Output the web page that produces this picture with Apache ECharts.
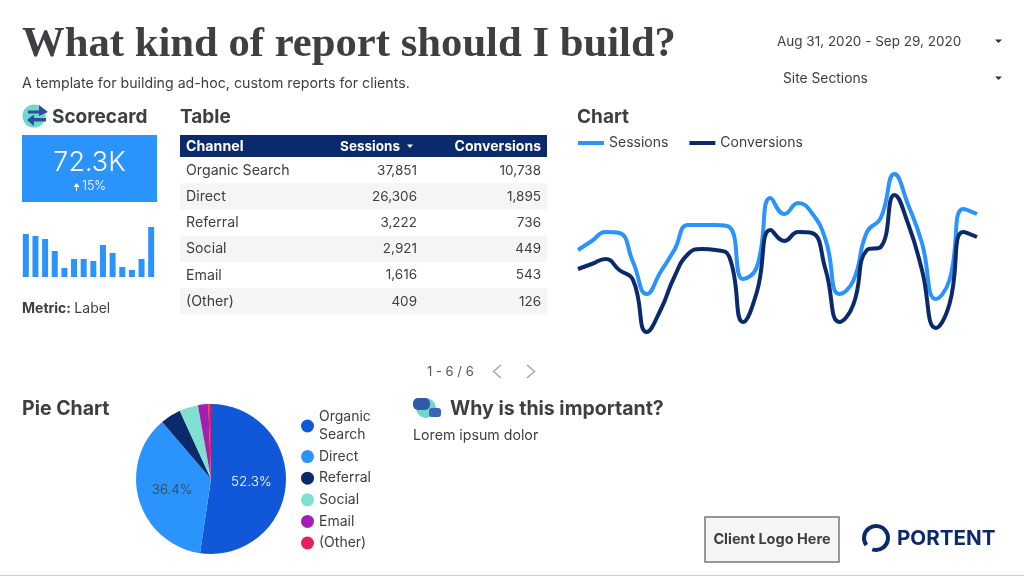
<!DOCTYPE html>
<html>
<head>
    <meta charset="utf-8">
    <title>What kind of report should I build?</title>
    <script src="https://cdn.jsdelivr.net/npm/echarts@6/dist/echarts.min.js"></script>
    <style>
      html, body { margin: 0; padding: 0; background: #fff; }
      #main { width: 1024px; height: 576px; }
    </style>
</head>
<body>
<div id="main"></div>
<script type="text/javascript">
// table
var channels = ['Organic Search', 'Direct', 'Referral', 'Social', 'Email', '(Other)'];
var channelSessions = [37851, 26306, 3222, 2921, 1616, 409];
var channelConversions = [10738, 1895, 736, 449, 543, 126];
// scorecard bars
var barValues = [43, 41, 38, 26, 9, 18, 18, 16, 32, 24, 10, 7, 18, 50];
// line chart, one value per day
var days = [];
for (var d = 0; d < 30; d++) days.push('d' + (d + 1));
var sessions = [1800, 1980, 2160, 2140, 1560, 920, 1360, 1800, 2300, 2300, 2300, 2260, 1220, 1460, 2840,
    2520, 2740, 2540, 2000, 920, 1180, 2160, 2440, 3320, 2700, 1940, 820, 1200, 2620, 2520];
var conversions = [355, 380, 405, 350, 300, 40, 150, 315, 430, 455, 450, 415, 90, 240, 550,
    495, 540, 535, 350, 90, 175, 450, 465, 725, 580, 350, 60, 180, 540, 515];

var pieColors = ['#1158d9', '#2a93fc', '#0a2a6b', '#7fdfd1', '#a020b0', '#e6205f'];
var sans = 'Inter, "Open Sans", sans-serif';
var ink = '#3c4043';

var myChart = echarts.init(document.getElementById('main'));

function txt(x, y, text, size, weight, color, align, family) {
    return {
        type: 'text',
        style: {
            x: x, y: y, text: text,
            font: weight + ' ' + size + 'px ' + (family || sans),
            fill: color || ink,
            textAlign: align || 'left',
            textVerticalAlign: 'middle'
        }
    };
}
function rect(x, y, w, h, fill, stroke) {
    return { type: 'rect', shape: { x: x, y: y, width: w, height: h }, style: { fill: fill, stroke: stroke || null, lineWidth: 1.5 } };
}
function poly(points, fill) {
    return { type: 'polygon', shape: { points: points }, style: { fill: fill } };
}
function chevron(points) {
    return { type: 'polyline', shape: { points: points }, style: { stroke: '#a8a8a8', lineWidth: 1.5, fill: null } };
}

var g = [];
// header
g.push(txt(22, 45, 'What kind of report should I build?', 42.7, 'bold', ink, 'left', '"Liberation Serif", serif'));
g.push(txt(22, 84, 'A template for building ad-hoc, custom reports for clients.', 14.2, 400));
g.push(txt(777, 42, 'Aug 31, 2020 - Sep 29, 2020', 13.5, 400));
g.push(txt(783, 79, 'Site Sections', 13.8, 400));
g.push(poly([[995, 39.5], [1002, 39.5], [998.5, 43]], '#333'));
g.push(poly([[995, 76.5], [1002, 76.5], [998.5, 80]], '#333'));

// section headings
g.push(txt(52, 117, 'Scorecard', 19, 700));
g.push(txt(180, 117, 'Table', 19, 700));
g.push(txt(577, 117, 'Chart', 19, 700));
g.push(txt(22, 409, 'Pie Chart', 19.5, 700));
g.push(txt(450, 409, 'Why is this important?', 19.5, 700));
g.push(txt(413, 436, 'Lorem ipsum dolor', 14.2, 400));

// scorecard icon
g.push({ type: 'circle', shape: { cx: 34, cy: 116, r: 11.5 }, style: { fill: '#6fd8cb' } });
g.push(poly([[28, 110.5], [39, 110.5], [39, 105], [48, 112], [39, 116], [39, 113.5], [28, 113.5]], '#2b4f9e'));
g.push(poly([[46, 118], [34, 118], [34, 114.5], [27, 120], [34, 126], [34, 121.5], [46, 121.5]], '#2b4f9e'));

// scorecard
g.push(rect(22, 135, 135, 67, '#2a93fc'));
g.push(txt(89.5, 163, '72.3K', 27, 300, '#fff', 'center'));
g.push(txt(94, 186, '15%', 12.5, 300, '#fff', 'center'));
g.push(poly([[76, 187], [73.5, 187], [76.5, 183], [79.5, 187], [77, 187], [77, 191], [76, 191]], '#fff'));
g.push({
    type: 'text',
    style: {
        x: 22, y: 309, text: '{b|Metric:} {r|Label}', textVerticalAlign: 'middle',
        rich: {
            b: { font: '700 14px ' + sans, fill: ink },
            r: { font: '400 14px ' + sans, fill: ink }
        }
    }
});

// table
g.push(rect(180, 135, 367, 22, '#0a2a6b'));
g.push(txt(186, 146.5, 'Channel', 14.2, 700, '#fff'));
g.push(txt(400, 146.5, 'Sessions', 13.5, 700, '#fff', 'right'));
g.push(poly([[407, 144.5], [413, 144.5], [410, 148]], '#fff'));
g.push(txt(541, 146.5, 'Conversions', 14, 700, '#fff', 'right'));
channels.forEach(function (name, i) {
    var top = 157 + i * 26.2;
    if (i % 2 == 1) g.push(rect(180, top, 367, 26.2, '#f5f5f5'));
    g.push(txt(186, top + 13.5, name, 14.2, 400));
    g.push(txt(417, top + 13.5, channelSessions[i].toLocaleString('en-US'), 13.5, 400, ink, 'right'));
    g.push(txt(541, top + 13.5, channelConversions[i].toLocaleString('en-US'), 13.5, 400, ink, 'right'));
});
g.push(txt(427, 372, '1 - 6 / 6', 13, 400, '#555'));
g.push(chevron([[501, 365], [493.5, 371.5], [501, 378]]));
g.push(chevron([[527, 365], [534.5, 371.5], [527, 378]]));

// why icon
g.push({ type: 'circle', shape: { cx: 426, cy: 408, r: 10 }, style: { fill: '#6fd8cb' } });
g.push({ type: 'rect', shape: { x: 413, y: 398, width: 17, height: 12, r: 5 }, style: { fill: '#2f5aa8' } });
g.push({ type: 'rect', shape: { x: 429, y: 408, width: 12, height: 9, r: 3 }, style: { fill: '#3f63b5' } });

// logos
g.push(rect(705, 517, 134, 45, '#f5f5f5', '#777'));
g.push(txt(772, 540, 'Client Logo Here', 14.5, 700, ink, 'center'));
g.push({
    type: 'arc',
    shape: { cx: 876, cy: 538, r: 12, startAngle: Math.PI * 0.8, endAngle: Math.PI * 0.6, clockwise: true },
    style: { stroke: '#0b2a6b', lineWidth: 4, fill: null }
});
g.push(txt(897, 539, 'PORTENT', 20.6, 700, '#0b2a6b'));
g.push(rect(0, 575, 1024, 1, '#d0d0d0'));

var option = {
    animation: false,
    textStyle: { fontFamily: sans },
    graphic: { elements: g },
    legend: [{
        data: ['Sessions', 'Conversions'],
        left: 573, top: 131,
        icon: 'rect', itemWidth: 26, itemHeight: 4, itemGap: 21,
        textStyle: { fontSize: 14, color: ink, fontFamily: sans }
    }, {
        data: channels,
        orient: 'vertical',
        left: 296, top: 403,
        icon: 'circle', itemWidth: 13, itemHeight: 13, itemGap: 3.6,
        formatter: function (name) { return name == 'Organic Search' ? 'Organic\nSearch' : name; },
        textStyle: { fontSize: 14, lineHeight: 18, color: ink, fontFamily: sans }
    }],
    grid: [
        { left: 21, top: 227, width: 135, height: 50 },
        { left: 578, top: 160, right: 47, height: 180 }
    ],
    xAxis: [
        { gridIndex: 0, type: 'category', data: days.slice(0, barValues.length), show: false },
        { gridIndex: 1, type: 'category', data: days, show: false, boundaryGap: false }
    ],
    yAxis: [
        { gridIndex: 0, type: 'value', min: 0, max: 50, show: false },
        { gridIndex: 1, type: 'value', min: 0, max: 3600, show: false },
        { gridIndex: 1, type: 'value', min: 0, max: 900, show: false }
    ],
    series: [{
        type: 'bar', xAxisIndex: 0, yAxisIndex: 0, data: barValues,
        barWidth: 6, itemStyle: { color: '#2a93fc' }
    }, {
        name: 'Sessions', type: 'line', xAxisIndex: 1, yAxisIndex: 1, data: sessions,
        smooth: 0.5, showSymbol: false, lineStyle: { width: 4, color: '#2a93fc' }, itemStyle: { color: '#2a93fc' }
    }, {
        name: 'Conversions', type: 'line', xAxisIndex: 1, yAxisIndex: 2, data: conversions,
        smooth: 0.5, showSymbol: false, lineStyle: { width: 4, color: '#0a2a6b' }, itemStyle: { color: '#0a2a6b' }
    }, {
        type: 'pie',
        center: [211, 479], radius: 75,
        startAngle: 90, clockwise: true,
        color: pieColors,
        data: channels.map(function (name, i) { return { name: name, value: channelSessions[i] }; }),
        labelLine: { show: false },
        label: {
            position: 'inside', fontSize: 13.5, fontWeight: 300, fontFamily: sans,
            formatter: function (p) { return p.percent >= 5 ? p.percent.toFixed(1) + '%' : ''; },
            color: '#fff'
        }
    }]
};
option.series[3].data[1].label = { color: ink };
myChart.setOption(option);
</script>
</body>
</html>
